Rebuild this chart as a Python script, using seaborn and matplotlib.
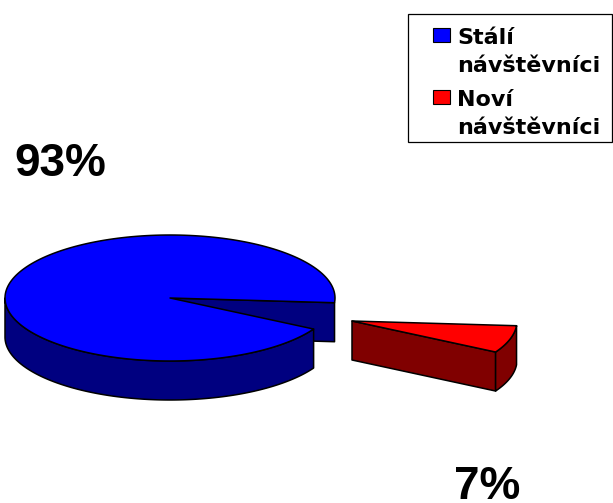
import numpy as np
import matplotlib
matplotlib.use("Agg")
import matplotlib.pyplot as plt
from matplotlib.patches import Polygon, Rectangle
import seaborn as sns

# Share of visitors
categories = ["Stálí\nnávštěvníci", "Noví\nnávštěvníci"]
shares = [93, 7]
share_labels = ["93%", "7%"]
top_colors = ["#0000ff", "#ff0000"]
side_colors = ["#000080", "#800000"]

W, H = 613, 503
PIE_CENTER = (170, 298)
SLICE_CENTER = (352, 321)            # the small slice is pulled out of the pie
RX, RY, DEPTH = 165, 63, 39
START_ANGLE = -29.5                  # lower edge of the small slice, in degrees

sns.set_theme(style="white")
fig = plt.figure(figsize=(W / 100, H / 100), dpi=100)
ax = fig.add_axes([0, 0, 1, 1])
ax.set_xlim(0, W)
ax.set_ylim(H, 0)
ax.axis("off")


def rim(center, a0, a1, n=200):
    t = np.radians(np.linspace(a0, a1, n))
    return np.column_stack([center[0] + RX * np.cos(t), center[1] - RY * np.sin(t)])


def shape(points, color, z):
    ax.add_patch(Polygon(points, closed=True, facecolor=color, edgecolor="black",
                         linewidth=1.1, joinstyle="round", zorder=z))


def wall(points, color, z):
    # extrude an outline downwards to form a vertical face
    shape(np.vstack([points, (points + [0, DEPTH])[::-1]]), color, z)


angles = np.array(shares) * 3.6
small_a0 = START_ANGLE
small_a1 = small_a0 + angles[1]
large_a0 = small_a1
large_a1 = large_a0 + angles[0]

# Large slice: inner cut face, front wall, then the top
pie_c = np.array(PIE_CENTER, dtype=float)
large_rim = rim(PIE_CENTER, large_a0, large_a1)
wall(np.array([pie_c, large_rim[0]]), side_colors[0], 2)
wall(rim(PIE_CENTER, 180, large_a1), side_colors[0], 3)
shape(np.vstack([pie_c, large_rim]), top_colors[0], 4)

# Small slice: cut face towards the viewer, curved wall, then the top
slice_c = np.array(SLICE_CENTER, dtype=float)
small_rim = rim(SLICE_CENTER, small_a0, small_a1)
wall(np.array([slice_c, small_rim[0]]), side_colors[1], 5)
wall(small_rim, side_colors[1], 5)
shape(np.vstack([slice_c, small_rim]), top_colors[1], 6)

label_font = dict(family="Liberation Sans", fontweight="bold", fontsize=33, color="black")
ax.text(60, 176, share_labels[0], ha="center", va="baseline", **label_font)
ax.text(487, 499, share_labels[1], ha="center", va="baseline", **label_font)

# Legend box with the swatch beside the first line of each entry
ax.add_patch(Rectangle((408, 14), 204, 128, facecolor="white", edgecolor="black",
                       linewidth=0.9, zorder=7))
for name, color, y in zip(categories, top_colors, (35, 97)):
    first, second = name.split("\n")
    ax.add_patch(Rectangle((433, y - 7), 17, 14, facecolor=color, edgecolor="black",
                           linewidth=0.8, zorder=8))
    ax.text(457, y + 9, first, ha="left", va="baseline", color="black",
            family="DejaVu Sans", fontweight="bold", fontsize=16, zorder=8)
    ax.text(457, y + 37, second, ha="left", va="baseline", color="black",
            family="DejaVu Sans", fontweight="bold", fontsize=16, zorder=8)

fig.savefig("out.png", dpi=100)
